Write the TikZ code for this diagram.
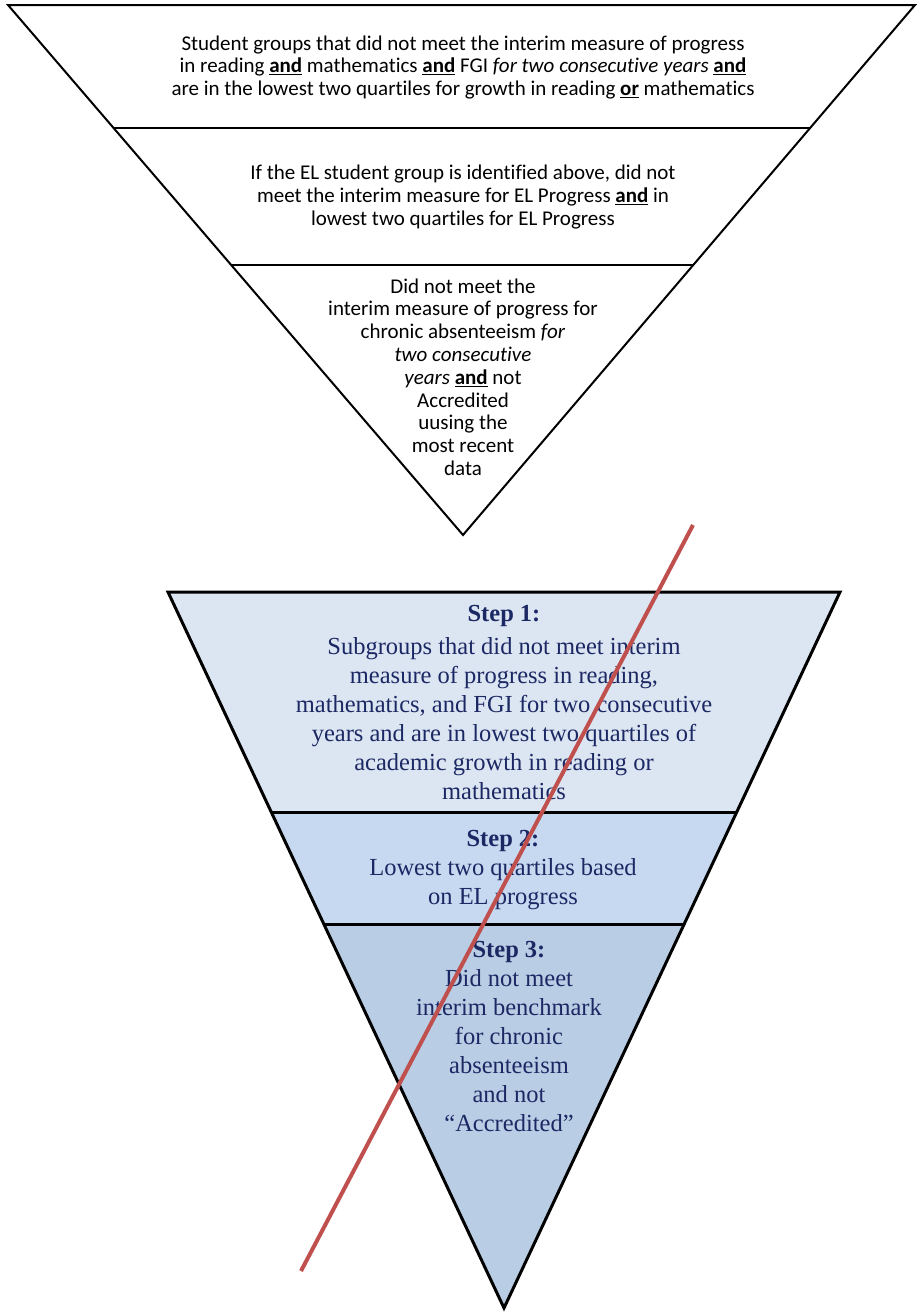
\documentclass[tikz,border=0pt]{standalone}
\usepackage{fontspec}
\setmainfont{Liberation Serif}
\newfontfamily\calibfont[Ligatures={NoCommon}]{Carlito}
\usetikzlibrary{calc}
\definecolor{stepone}{RGB}{220,230,242}
\definecolor{steptwo}{RGB}{198,217,240}
\definecolor{stepthree}{RGB}{185,205,229}
\definecolor{navytext}{RGB}{28,40,100}
\definecolor{redline}{RGB}{192,80,77}
\newcommand{\ulb}[1]{\underline{\textbf{#1}}}
\tikzset{
  topline/.style={draw=black, line width=2pt, line join=miter},
  botline/.style={draw=black, line width=3pt, line join=miter},
  toptext/.style={align=center, font=\calibfont\fontsize{21}{22.8}\selectfont, inner sep=0pt},
  steptext/.style={align=center, text=navytext, font=\fontsize{24.5}{29}\selectfont, inner sep=0pt},
  crossline/.style={draw=redline, line width=4pt}
}
\begin{document}
\begin{tikzpicture}[x=1pt,y=-1pt]
\useasboundingbox (0,0) rectangle (917,1312);
% ---- upper funnel ----
\coordinate (TL) at (8,5);
\coordinate (TR) at (915,5);
\coordinate (TA) at (463,535);
\coordinate (T1L) at ($(TL)!0.2321!(TA)$);
\coordinate (T1R) at ($(TR)!0.2321!(TA)$);
\coordinate (T2L) at ($(TL)!0.4906!(TA)$);
\coordinate (T2R) at ($(TR)!0.4906!(TA)$);
\draw[topline] (TL) -- (TR) -- (TA) -- cycle;
\draw[topline] (T1L) -- (T1R);
\draw[topline] (T2L) -- (T2R);
\node[toptext] (ta) at (463,67.5) {Student groups that did not meet the interim measure of progress\\
in reading \ulb{and} mathematics \ulb{and} FGI \textit{for two consecutive years} \ulb{and}\\
are in the lowest two quartiles for growth in reading \ulb{or} mathematics};
\node[toptext] (tb) at (463,197) {If the EL student group is identified above, did not\\
meet the interim measure for EL Progress \ulb{and} in\\
lowest two quartiles for EL Progress};
\node[toptext] (tc) at (463,377) {Did not meet the\\
interim measure of progress for\\
chronic absenteeism \textit{for}\\
\textit{two consecutive}\\
\textit{years} \ulb{and} not\\
Accredited\\
uusing the\\
most recent\\
data};
% ---- lower funnel ----
\coordinate (BL) at (168,592);
\coordinate (BR) at (840,592);
\coordinate (BA) at (504,1308);
\coordinate (B1L) at ($(BL)!0.3073!(BA)$);
\coordinate (B1R) at ($(BR)!0.3073!(BA)$);
\coordinate (B2L) at ($(BL)!0.4637!(BA)$);
\coordinate (B2R) at ($(BR)!0.4637!(BA)$);
\fill[stepone] (BL) -- (BR) -- (B1R) -- (B1L) -- cycle;
\fill[steptwo] (B1L) -- (B1R) -- (B2R) -- (B2L) -- cycle;
\fill[stepthree] (B2L) -- (B2R) -- (BA) -- cycle;
\draw[botline] (BL) -- (BR) -- (BA) -- cycle;
\draw[botline] (B1L) -- (B1R);
\draw[botline] (B2L) -- (B2R);
\node[steptext] (s1) at (504,702) {\textbf{Step 1:}\\[4pt]
Subgroups that did not meet interim\\
measure of progress in reading,\\
mathematics, and FGI for two consecutive\\
years and are in lowest two quartiles of\\
academic growth in reading or\\
mathematics};
\node[steptext] (s2) at (503,870) {\textbf{Step 2:}\\
Lowest two quartiles based\\
on EL progress};
\node[steptext] (s3) at (509,1036) {\textbf{Step 3:}\\
Did not meet\\
interim benchmark\\
for chronic\\
absenteeism\\
and not\\
``Accredited''};
% ---- cross line ----
\coordinate (r1) at (693,525);
\coordinate (r2) at (301,1271);
\draw[crossline] (r1) -- (r2);
\end{tikzpicture}
\end{document}
